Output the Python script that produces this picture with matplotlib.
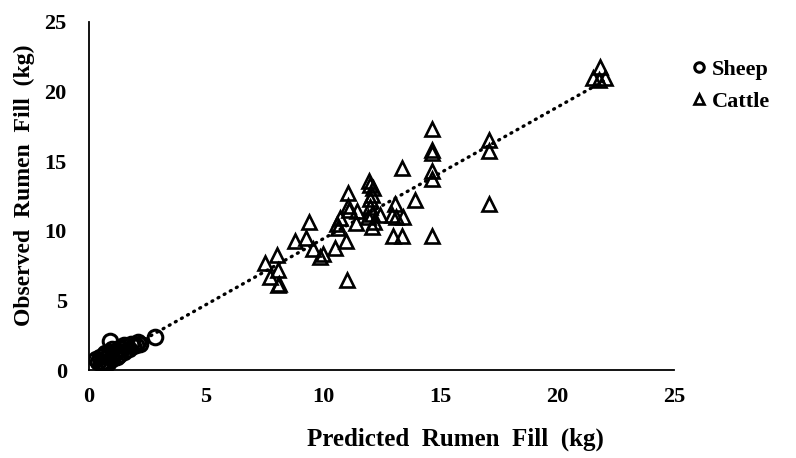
import numpy as np
import matplotlib
matplotlib.use("Agg")
import matplotlib.pyplot as plt

plt.rcParams['font.family'] = ['Liberation Serif', 'DejaVu Serif']
plt.rcParams['font.weight'] = 'bold'

# sheep: predicted vs observed rumen fill (kg)
sheep_x = [0.3, 0.4, 0.45, 0.5, 0.6, 0.7, 0.75, 0.8, 0.6, 0.7, 0.8, 0.9, 0.9, 1.0, 1.0,
           1.1, 1.2, 1.2, 1.3, 1.3, 1.4, 1.5, 1.5, 1.6, 1.7, 1.8, 1.9, 2.0, 2.1, 2.2, 2.8]
sheep_y = [0.8, 0.6, 0.9, 0.5, 0.4, 0.35, 0.6, 0.5, 1.0, 1.2, 1.0, 1.3, 2.1, 0.8, 1.5,
           1.2, 1.4, 0.9, 1.6, 1.1, 1.5, 1.8, 1.3, 1.7, 1.5, 1.9, 1.7, 1.8, 2.0, 1.9, 2.4]

# cattle
cattle_x = [7.52, 7.74, 8.05, 8.09, 8.09, 8.1,
            8.8, 9.27, 9.4, 9.59, 9.87, 10.0, 10.5,
            10.66, 10.73, 10.6, 11.0, 11.04, 11.05, 11.05, 11.1, 11.41, 11.44,
            11.94, 11.98, 12.0, 12.14, 12.1, 12.0, 12.0, 12.08, 12.2, 12.1, 12.44,
            12.93, 13.08, 13.1, 13.0, 13.36, 13.4, 13.36, 13.93,
            14.64, 14.64, 14.64, 14.64, 14.64, 14.64,
            17.1, 17.1, 17.1,
            21.55, 21.85, 22.05, 21.8]
cattle_y = [7.7, 6.7, 8.27, 7.2, 6.1, 6.2,
            9.3, 9.47, 10.6, 8.7, 8.15, 8.3, 8.75,
            10.2, 10.9, 10.5, 9.3, 6.5, 12.75, 11.75, 11.5, 10.55, 11.4,
            11.0, 13.6, 13.3, 13.1, 12.6, 12.3, 11.7, 10.3, 10.6, 11.2, 11.15,
            11.15, 11.9, 11.0, 9.6, 9.6, 11.0, 14.5, 12.2,
            17.3, 15.8, 15.6, 14.3, 13.7, 9.6,
            16.5, 15.7, 11.9,
            21.0, 21.8, 21.0, 20.8]

# linear trendline
trend_slope = 0.945
trend_icept = -0.03
trend_range = [0.3, 22.0]

fig = plt.figure(figsize=(7.96, 4.58), dpi=100)
ax = fig.add_axes([0.1118, 0.1921, 0.7349, 0.7599])

ax.plot(sheep_x, sheep_y, linestyle='none', marker='o', ms=10.5, mfc='none',
        mec='black', mew=2.2, label='Sheep')
ax.plot(cattle_x, cattle_y, linestyle='none', marker='^', ms=10.5, mfc='none',
        mec='black', mew=1.9, label='Cattle')

tx = np.array(trend_range)
ax.plot(tx, trend_slope * tx + trend_icept, color='black', lw=2.4,
        linestyle=(0, (0.3, 1.8)), dash_capstyle='round')

ax.set_xlim(0, 25)
ax.set_ylim(0, 25)
ax.set_xticks(range(0, 26, 5))
ax.set_yticks(range(0, 26, 5))
ax.tick_params(length=0, labelsize=16)
ax.tick_params(axis='x', pad=12)
ax.tick_params(axis='y', pad=16)
for s in ['top', 'right']:
    ax.spines[s].set_visible(False)
for s in ['left', 'bottom']:
    ax.spines[s].set_linewidth(1.3)

ax.set_xlabel('Predicted  Rumen  Fill  (kg)', fontsize=18, fontweight='bold')
ax.set_ylabel('Observed  Rumen  Fill  (kg)', fontsize=17, fontweight='bold')
ax.xaxis.set_label_coords(0.627, -0.165)
ax.yaxis.set_label_coords(-0.092, 0.53)

leg = fig.legend(loc='upper left', bbox_to_anchor=(0.839, 0.914), frameon=False,
                 fontsize=16, handletextpad=0.1, handlelength=1.0,
                 labelspacing=0.5, markerscale=0.65)

fig.savefig('out.png', dpi=100)
